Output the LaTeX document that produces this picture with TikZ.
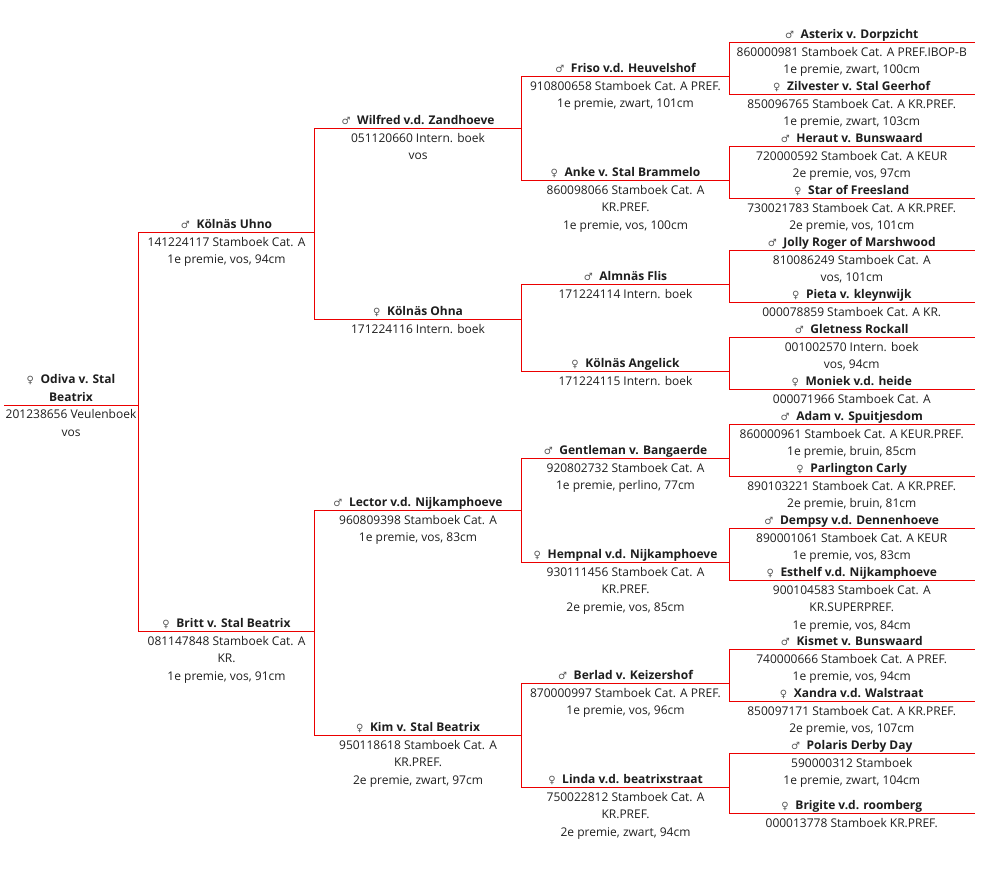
\documentclass[tikz,border=0pt]{standalone}
\usepackage{fontspec}
\setmainfont{Open Sans}
\newfontfamily\symfnt{DejaVu Sans}
\definecolor{pedred}{RGB}{235,0,0}
\definecolor{pedtext}{RGB}{30,30,30}
\definecolor{pedsym}{RGB}{85,85,85}
\newcommand\msym{{\symfnt\fontsize{7.5pt}{9pt}\selectfont\color{pedsym}♂}\hspace{5pt}}
\newcommand\fsym{{\symfnt\fontsize{7.5pt}{9pt}\selectfont\color{pedsym}♀}\hspace{5pt}}
\tikzset{
  pedline/.style={draw=pedred, color=pedred, line width=0.75pt, line cap=rect},
  conn/.style={draw=pedred, color=pedred, line width=0.75pt, line cap=rect},
  hname/.style={anchor=base, inner sep=0pt, font=\fontsize{9pt}{13.125pt}\selectfont\bfseries, text=pedtext},
  hinfo/.style={anchor=north, inner sep=0pt, align=center, font=\fontsize{9pt}{13.125pt}\selectfont, text=pedtext},
}
% id, x1, x2, y, symbol, name, info
\newcommand\pedhorse[7]{%
  \coordinate (#1-l) at (#2,#4);
  \coordinate (#1-r) at (#3,#4);
  \node[hname] (#1-n) at ({(#2+#3)/2},{#4-4.5}) {#5#6};
  \node[hinfo] (#1-i) at ({(#2+#3)/2},{#4+4.5}) {#7};
  \draw[pedline] (#1-l) -- (#1-r);
}
\begin{document}
\begin{tikzpicture}[x=0.75pt,y=-0.75pt]
\useasboundingbox (0,0) rectangle (983,872);
% generation 0
\coordinate (odiva-l) at (4,405.5);
\coordinate (odiva-r) at (138.5,405.5);
\node[hname, anchor=south, align=center] (odiva-n) at (71,401.5) {\fsym Odiva v. Stal\\Beatrix};
\node[hinfo] (odiva-i) at (71,409.5) {201238656 Veulenboek\\vos};
\draw[pedline] (odiva-l) -- (odiva-r);
% generation 1
\pedhorse{uhno}{138.5}{314.5}{232.5}{\msym}{Kölnäs Uhno}{141224117 Stamboek Cat. A\\1e premie, vos, 94cm}
\pedhorse{britt}{138.5}{314.5}{631.5}{\fsym}{Britt v. Stal Beatrix}{081147848 Stamboek Cat. A\\KR.\\1e premie, vos, 91cm}
% generation 2
\pedhorse{wilfred}{314.5}{521.5}{128.5}{\msym}{Wilfred v.d. Zandhoeve}{051120660 Intern. boek\\vos}
\pedhorse{ohna}{314.5}{521.5}{319.5}{\fsym}{Kölnäs Ohna}{171224116 Intern. boek}
\pedhorse{lector}{314.5}{521.5}{510.5}{\msym}{Lector v.d. Nijkamphoeve}{960809398 Stamboek Cat. A\\1e premie, vos, 83cm}
\pedhorse{kim}{314.5}{521.5}{735.5}{\fsym}{Kim v. Stal Beatrix}{950118618 Stamboek Cat. A\\KR.PREF.\\2e premie, zwart, 97cm}
% generation 3
\pedhorse{friso}{521.5}{729.5}{76.5}{\msym}{Friso v.d. Heuvelshof}{910800658 Stamboek Cat. A PREF.\\1e premie, zwart, 101cm}
\pedhorse{anke}{521.5}{729.5}{180.5}{\fsym}{Anke v. Stal Brammelo}{860098066 Stamboek Cat. A\\KR.PREF.\\1e premie, vos, 100cm}
\pedhorse{almnas}{521.5}{729.5}{284.5}{\msym}{Almnäs Flis}{171224114 Intern. boek}
\pedhorse{angelick}{521.5}{729.5}{371.5}{\fsym}{Kölnäs Angelick}{171224115 Intern. boek}
\pedhorse{gentleman}{521.5}{729.5}{458.5}{\msym}{Gentleman v. Bangaerde}{920802732 Stamboek Cat. A\\1e premie, perlino, 77cm}
\pedhorse{hempnal}{521.5}{729.5}{562.5}{\fsym}{Hempnal v.d. Nijkamphoeve}{930111456 Stamboek Cat. A\\KR.PREF.\\2e premie, vos, 85cm}
\pedhorse{berlad}{521.5}{729.5}{683.5}{\msym}{Berlad v. Keizershof}{870000997 Stamboek Cat. A PREF.\\1e premie, vos, 96cm}
\pedhorse{linda}{521.5}{729.5}{787.5}{\fsym}{Linda v.d. beatrixstraat}{750022812 Stamboek Cat. A\\KR.PREF.\\2e premie, zwart, 94cm}
% generation 4
\pedhorse{asterix}{729.5}{974}{42.5}{\msym}{Asterix v. Dorpzicht}{860000981 Stamboek Cat. A PREF.IBOP-B\\1e premie, zwart, 100cm}
\pedhorse{zilvester}{729.5}{974}{94.5}{\fsym}{Zilvester v. Stal Geerhof}{850096765 Stamboek Cat. A KR.PREF.\\1e premie, zwart, 103cm}
\pedhorse{heraut}{729.5}{974}{146.5}{\msym}{Heraut v. Bunswaard}{720000592 Stamboek Cat. A KEUR\\2e premie, vos, 97cm}
\pedhorse{star}{729.5}{974}{198.5}{\fsym}{Star of Freesland}{730021783 Stamboek Cat. A KR.PREF.\\2e premie, vos, 101cm}
\pedhorse{jolly}{729.5}{974}{250.5}{\msym}{Jolly Roger of Marshwood}{810086249 Stamboek Cat. A\\vos, 101cm}
\pedhorse{pieta}{729.5}{974}{302.5}{\fsym}{Pieta v. kleynwijk}{000078859 Stamboek Cat. A KR.}
\pedhorse{gletness}{729.5}{974}{337.5}{\msym}{Gletness Rockall}{001002570 Intern. boek\\vos, 94cm}
\pedhorse{moniek}{729.5}{974}{389.5}{\fsym}{Moniek v.d. heide}{000071966 Stamboek Cat. A}
\pedhorse{adam}{729.5}{974}{424.5}{\msym}{Adam v. Spuitjesdom}{860000961 Stamboek Cat. A KEUR.PREF.\\1e premie, bruin, 85cm}
\pedhorse{parlington}{729.5}{974}{476.5}{\fsym}{Parlington Carly}{890103221 Stamboek Cat. A KR.PREF.\\2e premie, bruin, 81cm}
\pedhorse{dempsy}{729.5}{974}{528.5}{\msym}{Dempsy v.d. Dennenhoeve}{890001061 Stamboek Cat. A KEUR\\1e premie, vos, 83cm}
\pedhorse{esthelf}{729.5}{974}{580.5}{\fsym}{Esthelf v.d. Nijkamphoeve}{900104583 Stamboek Cat. A\\KR.SUPERPREF.\\1e premie, vos, 84cm}
\pedhorse{kismet}{729.5}{974}{649.5}{\msym}{Kismet v. Bunswaard}{740000666 Stamboek Cat. A PREF.\\1e premie, vos, 94cm}
\pedhorse{xandra}{729.5}{974}{701.5}{\fsym}{Xandra v.d. Walstraat}{850097171 Stamboek Cat. A KR.PREF.\\2e premie, vos, 107cm}
\pedhorse{polaris}{729.5}{974}{753.5}{\msym}{Polaris Derby Day}{590000312 Stamboek\\1e premie, zwart, 104cm}
\pedhorse{brigite}{729.5}{974}{813.5}{\fsym}{Brigite v.d. roomberg}{000013778 Stamboek KR.PREF.}
% connectors
\foreach \p/\a/\b in {odiva/uhno/britt, uhno/wilfred/ohna, britt/lector/kim,
  wilfred/friso/anke, ohna/almnas/angelick, lector/gentleman/hempnal, kim/berlad/linda,
  friso/asterix/zilvester, anke/heraut/star, almnas/jolly/pieta, angelick/gletness/moniek,
  gentleman/adam/parlington, hempnal/dempsy/esthelf, berlad/kismet/xandra, linda/polaris/brigite}{
  \draw[conn] (\a-l) -- (\b-l);
}
\end{tikzpicture}
\end{document}
